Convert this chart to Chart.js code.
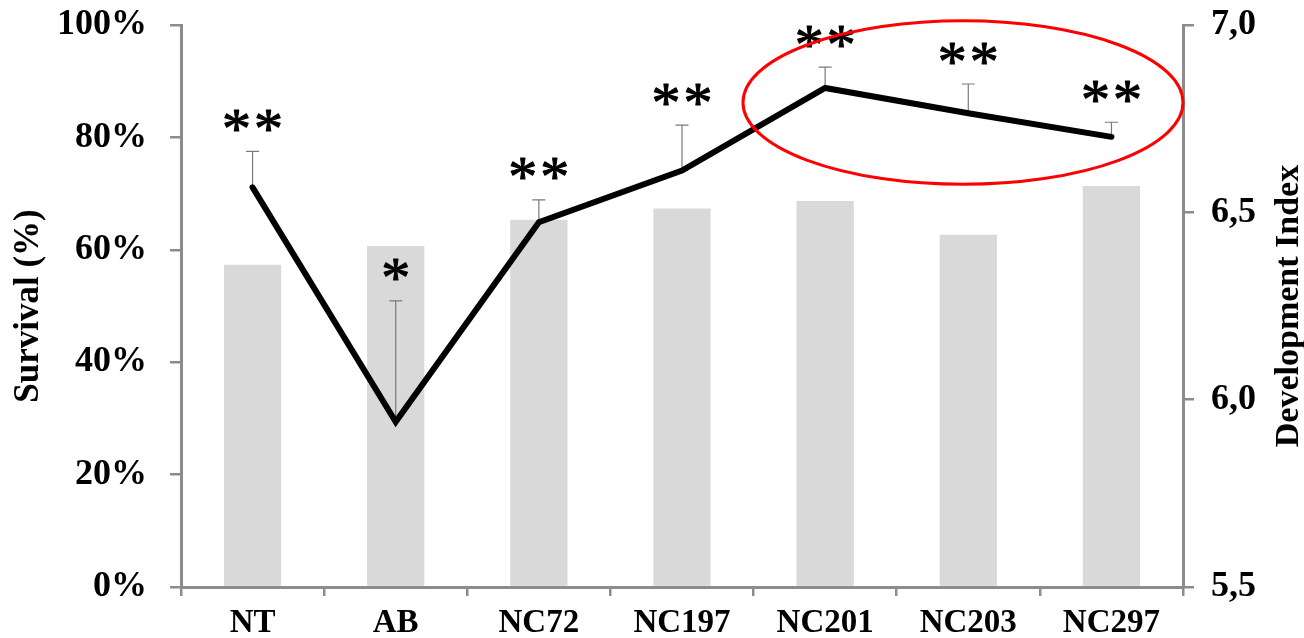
<!DOCTYPE html>
<html>
<head>
<meta charset="utf-8">
<script src="https://cdn.jsdelivr.net/npm/chart.js@4.4.1/dist/chart.umd.min.js"></script>
<style>
  html, body { margin: 0; padding: 0; background: #fff; }
  #wrap { width: 1304px; height: 638px; }
</style>
</head>
<body>
<div id="wrap"><canvas id="c" width="1304" height="638"></canvas></div>
<script>
// ---- data ----
const categories = ['NT', 'AB', 'NC72', 'NC197', 'NC201', 'NC203', 'NC297'];
const survival = [71.1, 29.4, 64.9, 74.1, 88.8, 84.3, 80.1];      // line, left axis (%)
const survivalErr = [6.4, 21.5, 4.0, 8.1, 3.7, 5.2, 2.6];          // upper error bars (%)
const devIndex = [6.36, 6.41, 6.48, 6.51, 6.53, 6.44, 6.57];       // bars, right axis
const significance = ['**', '*', '**', '**', '**', '**', '**'];
const leftTicks = [0, 20, 40, 60, 80, 100];
const rightTicks = [5.5, 6.0, 6.5, 7.0];
const highlight = { centerIndex: 4.963, halfWidth: 1.537, centerValue: 86.2, halfHeight: 14.55 };

const FONT = "'Liberation Serif', 'Times New Roman', serif";
const AXIS_GREY = '#8c8c8c';

const errorBarPlugin = {
  id: 'errorBars',
  afterDatasetDraw(chart, args) {
    if (args.index !== 1) return; // draw after bars, before line
    const ctx = chart.ctx, xs = chart.scales.x, ys = chart.scales.y;
    ctx.save();
    ctx.strokeStyle = '#7a7a7a';
    ctx.lineWidth = 1.2;
    survival.forEach((v, i) => {
      const x = xs.getPixelForValue(i);
      const y0 = ys.getPixelForValue(v);
      const y1 = ys.getPixelForValue(v + survivalErr[i]);
      ctx.beginPath();
      ctx.moveTo(x, y0); ctx.lineTo(x, y1);
      ctx.moveTo(x - 6.5, y1); ctx.lineTo(x + 6.5, y1);
      ctx.stroke();
    });
    ctx.restore();
  }
};

const annotPlugin = {
  id: 'annot',
  afterDatasetsDraw(chart) {
    const ctx = chart.ctx, xs = chart.scales.x, ys = chart.scales.y;
    ctx.save();
    // significance stars
    ctx.fillStyle = '#000';
    ctx.strokeStyle = '#000';
    ctx.lineWidth = 1.1;
    ctx.lineJoin = 'round';
    ctx.font = "58px " + FONT;
    ctx.textAlign = 'center';
    ctx.textBaseline = 'alphabetic';
    const m = ctx.measureText('*');
    const midOff = (m.actualBoundingBoxAscent - m.actualBoundingBoxDescent) / 2;
    significance.forEach((s, i) => {
      const cx = xs.getPixelForValue(i);
      const cy = ys.getPixelForValue(survival[i] + survivalErr[i]) - 31;
      const n = s.length, gap = 32;
      for (let k = 0; k < n; k++) {
        const x = cx + (k - (n - 1) / 2) * gap;
        ctx.fillText('*', x, cy + midOff);
        ctx.strokeText('*', x, cy + midOff);
      }
    });
    // red ellipse
    const step = xs.getPixelForValue(1) - xs.getPixelForValue(0);
    const ex = xs.getPixelForValue(highlight.centerIndex);
    const ey = ys.getPixelForValue(highlight.centerValue);
    const rx = highlight.halfWidth * step;
    const ry = ys.getPixelForValue(highlight.centerValue - highlight.halfHeight) - ey;
    ctx.beginPath();
    ctx.ellipse(ex, ey, rx, ry, 0, 0, Math.PI * 2);
    ctx.strokeStyle = '#ff0000';
    ctx.lineWidth = 3;
    ctx.stroke();
    // right axis title (reads bottom-to-top)
    const ca = chart.chartArea;
    ctx.translate(1289, (ca.top + ca.bottom) / 2);
    ctx.rotate(-Math.PI / 2);
    ctx.font = "bold 34px " + FONT;
    ctx.fillStyle = '#000';
    ctx.textAlign = 'center';
    ctx.textBaseline = 'middle';
    ctx.fillText('Development Index', 0, 0);
    ctx.restore();
  }
};

function fixY(width) {
  return function (s) {
    s.width = width;
    s.paddingTop = 0;
    s.paddingBottom = 0;
  };
}

new Chart(document.getElementById('c'), {
  type: 'bar',
  data: {
    labels: categories,
    datasets: [
      {
        type: 'line',
        label: 'Survival (%)',
        data: survival,
        yAxisID: 'y',
        borderColor: '#000',
        borderWidth: 6,
        borderCapStyle: 'round',
        borderJoinStyle: 'miter',
        pointRadius: 0,
        tension: 0,
        fill: false,
        order: 0
      },
      {
        type: 'bar',
        label: 'Development Index',
        data: devIndex,
        yAxisID: 'y1',
        backgroundColor: '#d9d9d9',
        borderWidth: 0,
        barPercentage: 0.4,
        categoryPercentage: 1.0,
        base: 5.5,
        order: 1
      }
    ]
  },
  options: {
    responsive: false,
    animation: false,
    layout: { padding: { top: 25, right: 0, bottom: 0, left: 0 } },
    plugins: { legend: { display: false }, tooltip: { enabled: false } },
    scales: {
      x: {
        offset: true,
        grid: { display: true, drawOnChartArea: false, drawTicks: true, tickLength: 9, color: AXIS_GREY, lineWidth: 2.5, offset: true },
        border: { display: true, color: AXIS_GREY, width: 3 },
        ticks: { color: '#000', font: { family: FONT, size: 33, weight: 'bold' }, padding: 8, maxRotation: 0, autoSkip: false },
        afterFit(s) { s.height = 51; s.paddingLeft = 0; s.paddingRight = 0; }
      },
      y: {
        position: 'left',
        min: 0, max: 100,
        afterBuildTicks(s) { s.ticks = leftTicks.map(v => ({ value: v })); },
        grid: { display: true, drawOnChartArea: false, drawTicks: true, tickLength: 11, color: AXIS_GREY, lineWidth: 2.5 },
        border: { display: true, color: AXIS_GREY, width: 3 },
        ticks: { color: '#000', font: { family: FONT, size: 36, weight: 'bold' }, padding: 23, callback: v => v + '%' },
        title: { display: true, text: 'Survival (%)', color: '#000', font: { family: FONT, size: 35, weight: 'bold' }, padding: { top: 8, bottom: 0 } },
        afterFit: fixY(181)
      },
      y1: {
        position: 'right',
        min: 5.5, max: 7.0,
        afterBuildTicks(s) { s.ticks = rightTicks.map(v => ({ value: v })); },
        grid: { display: true, drawOnChartArea: false, drawTicks: true, tickLength: 11, color: AXIS_GREY, lineWidth: 2.5 },
        border: { display: true, color: AXIS_GREY, width: 3 },
        ticks: { color: '#000', font: { family: FONT, size: 36, weight: 'bold' }, padding: 17, callback: v => v.toFixed(1).replace('.', ',') },
        afterFit: fixY(121)
      }
    }
  },
  plugins: [errorBarPlugin, annotPlugin]
});
</script>
</body>
</html>
